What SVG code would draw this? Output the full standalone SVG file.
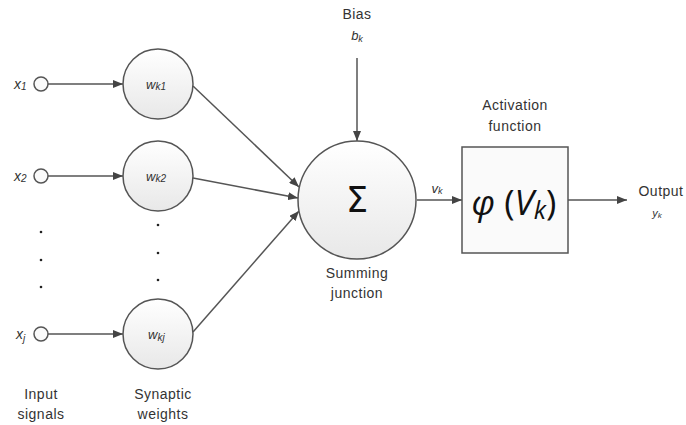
<svg xmlns="http://www.w3.org/2000/svg" width="686" height="425" viewBox="0 0 686 425">
<defs>
<linearGradient id="g" x1="0" y1="0" x2="0" y2="1"><stop offset="0" stop-color="#ffffff"/><stop offset="1" stop-color="#e8e8e8"/></linearGradient>
<marker id="ah" markerWidth="10" markerHeight="8" refX="10" refY="4" orient="auto" markerUnits="userSpaceOnUse"><path d="M0,0 L10,4 L0,8 Z" fill="#444"/></marker>
<style>
.n{fill:url(#g);stroke:#555;stroke-width:1.5}
.s{fill:#fafafa;stroke:#555;stroke-width:1.5}
.c{stroke:#555;stroke-width:1.5;fill:none}
.t{font-family:"Liberation Sans",Arial,sans-serif;font-size:14px;letter-spacing:0.5px;fill:#333}
.i{font-family:"Liberation Sans",Arial,sans-serif;font-style:italic;fill:#333}
.d{fill:#222}
</style>
</defs>
<rect width="686" height="425" fill="#fff"/>
<g id="connectors">
<line class="c" x1="48" y1="84" x2="123" y2="84" marker-end="url(#ah)"/>
<line class="c" x1="48" y1="176" x2="123" y2="176" marker-end="url(#ah)"/>
<line class="c" x1="48" y1="334" x2="123" y2="334" marker-end="url(#ah)"/>
<line class="c" x1="193" y1="86" x2="299" y2="187" marker-end="url(#ah)"/>
<line class="c" x1="193" y1="178" x2="298" y2="198" marker-end="url(#ah)"/>
<line class="c" x1="193" y1="332" x2="299" y2="211" marker-end="url(#ah)"/>
<line class="c" x1="357" y1="58" x2="357" y2="141" marker-end="url(#ah)"/>
<line class="c" x1="417" y1="200" x2="462" y2="200" marker-end="url(#ah)"/>
<line class="c" x1="568" y1="200" x2="627" y2="200" marker-end="url(#ah)"/>
</g>
<g id="x1"><circle class="s" cx="41" cy="84" r="7"/><text class="i" x="14" y="89" font-size="14">x<tspan font-size="10" dy="1">1</tspan></text></g>
<g id="x2"><circle class="s" cx="41" cy="176" r="7"/><text class="i" x="14" y="181" font-size="14">x<tspan font-size="10" dy="1">2</tspan></text></g>
<g id="xj"><circle class="s" cx="41" cy="334" r="7"/><text class="i" x="16" y="339" font-size="14">x<tspan font-size="10" dy="3">j</tspan></text></g>
<g id="input-dots"><circle class="d" cx="41" cy="232" r="1.3"/><circle class="d" cx="41" cy="260" r="1.3"/><circle class="d" cx="41" cy="287" r="1.3"/></g>
<g id="wk1"><circle class="n" cx="158" cy="84" r="35"/><text class="i" x="146" y="89" font-size="13">w<tspan font-size="10" dy="1">k1</tspan></text></g>
<g id="wk2"><circle class="n" cx="158" cy="176" r="35"/><text class="i" x="146" y="181" font-size="13">w<tspan font-size="10" dy="1">k2</tspan></text></g>
<g id="wkj"><circle class="n" cx="158" cy="334" r="35"/><text class="i" x="148" y="339" font-size="13">w<tspan font-size="10" dy="2">kj</tspan></text></g>
<g id="weight-dots"><circle class="d" cx="158" cy="225" r="1.3"/><circle class="d" cx="158" cy="253" r="1.3"/><circle class="d" cx="158" cy="280" r="1.3"/></g>
<g id="bias"><text class="t" x="357" y="19" text-anchor="middle">Bias</text><text class="i" x="357" y="40" text-anchor="middle" font-size="13">b<tspan font-size="9" dy="2">k</tspan></text></g>
<g id="sum"><circle class="n" cx="357" cy="200" r="59"/><text x="357" y="212" text-anchor="middle" font-family="'DejaVu Sans',sans-serif" font-size="35" fill="#111">Σ</text>
<text class="t" x="357" y="278" text-anchor="middle">Summing</text><text class="t" x="357" y="298" text-anchor="middle">junction</text></g>
<g id="vk-label"><text class="i" x="437" y="193" text-anchor="middle" font-size="13">v<tspan font-size="9" dy="1">k</tspan></text></g>
<g id="activation"><rect class="s" x="462" y="147" width="106" height="106" fill="url(#g)"/>
<text x="514" y="215" text-anchor="middle" font-family="'Open Sans','DejaVu Sans',sans-serif" font-size="35" fill="#111"><tspan font-style="italic">φ</tspan> (<tspan font-style="italic">V</tspan><tspan font-style="italic" font-size="25" dy="4">k</tspan><tspan dy="-4">)</tspan></text>
<text class="t" x="515" y="110" text-anchor="middle">Activation</text><text class="t" x="515" y="131" text-anchor="middle">function</text></g>
<g id="output"><text class="t" x="661" y="196" text-anchor="middle">Output</text><text class="i" x="657" y="217" text-anchor="middle" font-size="11">y<tspan font-size="8" dy="1">k</tspan></text></g>
<g id="captions"><text class="t" x="41" y="399" text-anchor="middle">Input</text><text class="t" x="41" y="419" text-anchor="middle">signals</text>
<text class="t" x="163" y="399" text-anchor="middle">Synaptic</text><text class="t" x="163" y="419" text-anchor="middle">weights</text></g>
</svg>
